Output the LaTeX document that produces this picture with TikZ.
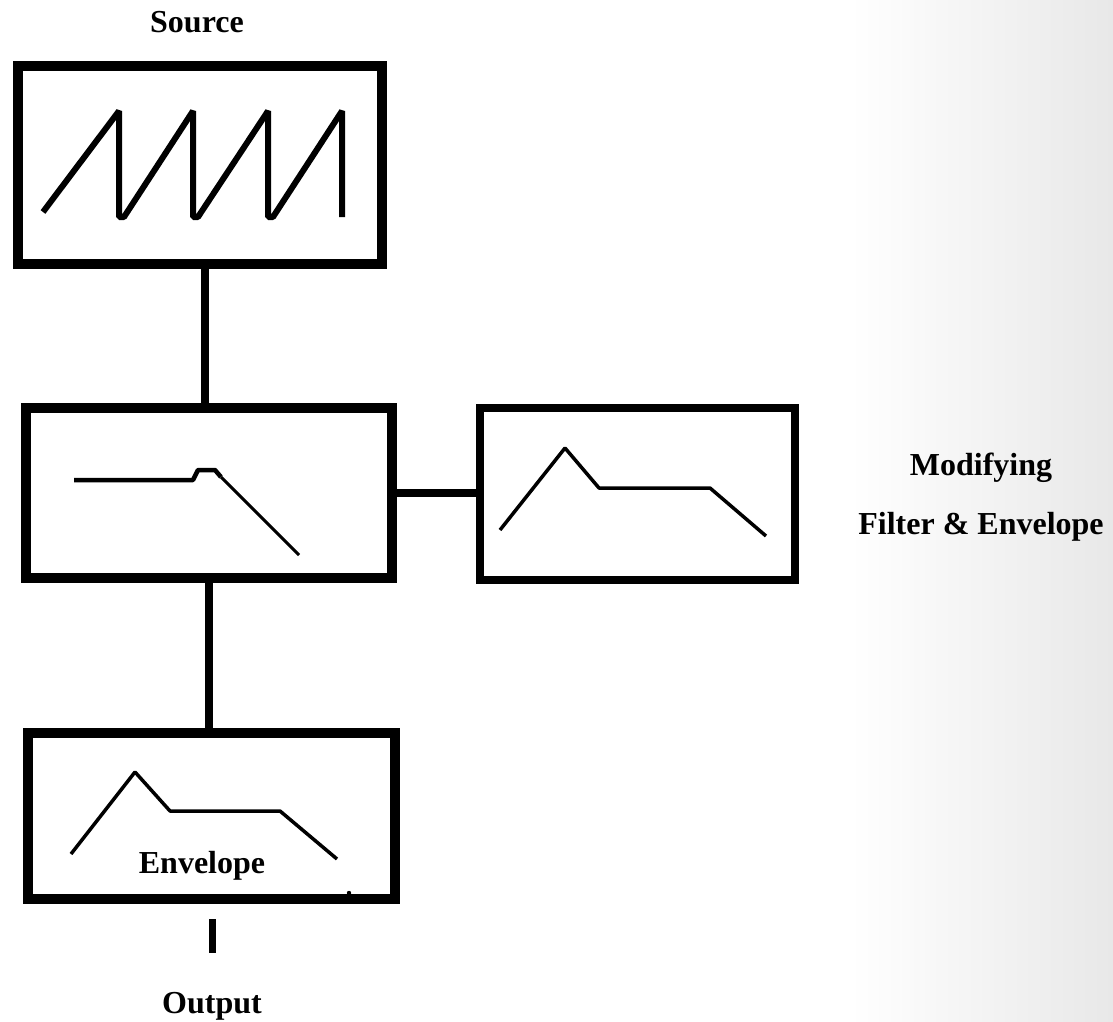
\documentclass[tikz,border=0pt]{standalone}
\usepackage{fontspec}
\setmainfont{Liberation Serif}
\begin{document}
\begin{tikzpicture}[x=1pt,y=-1pt,
  block/.style={draw=black,line width=10pt,rectangle,inner sep=0pt},
  wire/.style={draw=black,line width=8.5pt},
  wave/.style={draw=black,line width=3.5pt,line join=bevel},
  caption/.style={font=\bfseries\fontsize{32}{38}\selectfont,inner sep=0pt,anchor=base}]

% canvas and the faint grey wash at the right edge
\useasboundingbox (0,0) rectangle (1113,1022);
\fill[white] (0,0) rectangle (1113,1022);
\shade[left color=white,right color=black!9] (850,0) rectangle (1113,1022);

% blocks
\node[block,minimum width=364pt,minimum height=198pt] (src)  at (200,165)   {};
\node[block,minimum width=366pt,minimum height=170pt] (filt) at (209,493)   {};
\node[block,line width=7.5pt,minimum width=315pt,minimum height=172pt] (mod) at (637.5,494) {};
\node[block,minimum width=367pt,minimum height=166pt] (env)  at (211.5,816) {};

% labels
\node[caption] (lblsrc)  at (197,33)   {Source};
\node[caption] (lblmodA) at (981,475)  {Modifying};
\node[caption] (lblmodB) at (981,534)  {Filter \& Envelope};
\node[caption] (lblenv)  at (202,873)  {Envelope};
\node[caption] (lblout)  at (212,1013) {Output};

% connectors
\draw[wire] ([xshift=5pt]src.south) -- ([xshift=-4pt]filt.north);
\draw[wire] (filt.east) -- (filt.east -| mod.west);
\draw[wire,line width=8pt] (filt.south) -- (filt.south |- env.north);
\coordinate (outtop) at (212,919);
\coordinate (outbot) at (212,953);
\draw[wire,line width=7pt] (outtop) -- (outbot);

% sawtooth oscillator
\draw[wave,line width=6pt]
  (43,212) -- (119,111) -- (119,217) -- (124,217)
  -- (193,111) -- (193,217) -- (198,217)
  -- (268,111) -- (268,217) -- (273,217)
  -- (342,111) -- (342,217);

% low-pass filter response
\draw[wave,line width=4.5pt] (74,480) -- (193,480) -- (198,470) -- (215,470) -- (221,477);
\draw[wave,line width=3pt] (221,477) -- (299,555);

% filter envelope
\draw[wave] (500,530) -- (565,448) -- (599,488) -- (710,488) -- (766,536);

% amplitude envelope
\draw[wave] (71,854) -- (135,772) -- (170,811) -- (280,811) -- (337,859);
\fill[black] (349,893) circle (2.2pt);
\end{tikzpicture}
\end{document}
